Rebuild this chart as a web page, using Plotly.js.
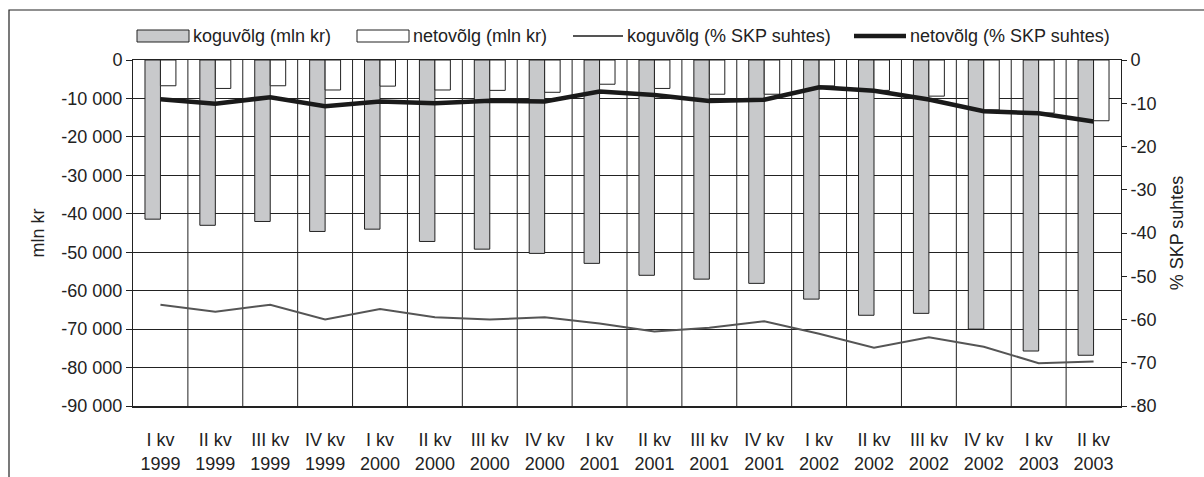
<!DOCTYPE html>
<html><head><meta charset="utf-8">
<script src="https://cdn.plot.ly/plotly-3.0.1.min.js"></script>
<style>html,body{margin:0;padding:0;background:#fff}#chart{width:1204px;height:477px}</style>
</head><body><div id="chart"></div>
<script>
const categories = ["I kv<br>1999","II kv<br>1999","III kv<br>1999","IV kv<br>1999",
  "I kv<br>2000","II kv<br>2000","III kv<br>2000","IV kv<br>2000",
  "I kv<br>2001","II kv<br>2001","III kv<br>2001","IV kv<br>2001",
  "I kv<br>2002","II kv<br>2002","III kv<br>2002","IV kv<br>2002",
  "I kv<br>2003","II kv<br>2003"];
const koguMln = [-41400,-43000,-42000,-44600,-44000,-47200,-49200,-50300,-52900,-56000,-57000,-58100,-62200,-66400,-65900,-70000,-75700,-76800];
const netoMln = [-6700,-7400,-6700,-7800,-6800,-7800,-7900,-8400,-6300,-7400,-8900,-8900,-6750,-7900,-9400,-13000,-13800,-15800];
const koguPct = [-56.6,-58.2,-56.6,-60.0,-57.6,-59.5,-60.0,-59.5,-60.9,-62.8,-61.9,-60.4,-63.3,-66.5,-64.1,-66.3,-70.1,-69.7];
const netoPct = [-9.1,-10.1,-8.6,-10.7,-9.6,-10.0,-9.4,-9.6,-7.3,-8.1,-9.5,-9.2,-6.3,-7.1,-9.15,-11.85,-12.3,-14.2];
const leftTickVals = [0,-10000,-20000,-30000,-40000,-50000,-60000,-70000,-80000,-90000];
const leftTickText = ["0","-10 000","-20 000","-30 000","-40 000","-50 000","-60 000","-70 000","-80 000","-90 000"];
const rightTickVals = [0,-10,-20,-30,-40,-50,-60,-70,-80];
const rightTickText = ["0","-10","-20","-30","-40","-50","-60","-70","-80"];
const seriesNames = ["koguvõlg (mln kr)","netovõlg (mln kr)","koguvõlg (% SKP suhtes)","netovõlg (% SKP suhtes)"];

const xIdx = categories.map((c, i) => i);

const FONT = "Liberation Sans, Arial, sans-serif";
const TXT = "#222";
const W = 1204, H = 477, L = 133, R = 83, T = 60, B = 71;
const pw = W - L - R, ph = H - T - B;
const px = v => (v - L) / pw;
const py = v => (H - B - v) / ph;

const traces = [
  {type:"bar", name:seriesNames[0], x:xIdx, y:koguMln,
   marker:{color:"#c8c9cb", line:{color:"#222", width:1}}},
  {type:"bar", name:seriesNames[1], x:xIdx, y:netoMln,
   marker:{color:"#ffffff", line:{color:"#222", width:1}}},
  {type:"scatter", mode:"lines", name:seriesNames[2], x:xIdx, y:koguPct, yaxis:"y2",
   line:{color:"#555", width:2}},
  {type:"scatter", mode:"lines", name:seriesNames[3], x:xIdx, y:netoPct, yaxis:"y2",
   line:{color:"#1a1a1a", width:4.5}}
];

// category boundary grid lines (Excel style)
const gridShapes = categories.slice(1).map((c, i) => ({
  type:"line", xref:"x", yref:"paper", x0:i + 0.5, x1:i + 0.5, y0:0, y1:1,
  line:{color:"#222", width:1}, layer:"below"
}));

const shapes = gridShapes.concat([
  {type:"rect", xref:"paper", yref:"paper", x0:px(9), x1:px(1230), y0:py(10), y1:py(520),
   line:{color:"#222", width:1.2}, fillcolor:"rgba(0,0,0,0)", layer:"below"},
  {type:"rect", xref:"paper", yref:"paper", x0:px(137), x1:px(189), y0:py(30), y1:py(42),
   line:{color:"#222", width:1}, fillcolor:"#c8c9cb"},
  {type:"rect", xref:"paper", yref:"paper", x0:px(357), x1:px(409), y0:py(30), y1:py(42),
   line:{color:"#222", width:1}, fillcolor:"#ffffff"},
  {type:"line", xref:"paper", yref:"paper", x0:px(573), x1:px(623), y0:py(36), y1:py(36),
   line:{color:"#555", width:2}},
  {type:"line", xref:"paper", yref:"paper", x0:px(854), x1:px(906), y0:py(36), y1:py(36),
   line:{color:"#1a1a1a", width:4.5}}
]);
const legX = [191, 411, 625, 908];
const annotations = seriesNames.map((n,i) => ({
  text:n, xref:"paper", yref:"paper", x:px(legX[i]), y:py(36), xanchor:"left", yanchor:"middle",
  showarrow:false, font:{family:FONT, size:18, color:TXT}
}));

const layout = {
  width:W, height:H, margin:{l:L, r:R, t:T, b:B, pad:0},
  paper_bgcolor:"#fff", plot_bgcolor:"#fff",
  font:{family:FONT, size:18, color:TXT},
  showlegend:false, barmode:"group", bargap:0.436, bargroupgap:0,
  xaxis:{type:"linear", range:[-0.5, categories.length - 0.5], tickmode:"array",
    tickvals:xIdx, ticktext:categories, showgrid:false, zeroline:false,
    ticks:"", ticklabelstandoff:17,
    showline:true, linecolor:"#222", linewidth:1.5, mirror:true,
    tickfont:{family:FONT, size:18, color:TXT}},
  yaxis:{range:[-90000,0], tickvals:leftTickVals, ticktext:leftTickText, showgrid:true,
    gridcolor:"#222", gridwidth:1, zeroline:false, showline:true, linecolor:"#222", linewidth:1,
    ticks:"outside", ticklen:6, tickcolor:"#222",
    title:{text:"mln kr", font:{family:FONT, size:18, color:TXT}, standoff:12},
    tickfont:{family:FONT, size:18, color:TXT}},
  yaxis2:{overlaying:"y", side:"right", range:[-80,0], tickvals:rightTickVals, ticktext:rightTickText,
    showgrid:false, zeroline:false, showline:true, linecolor:"#222", linewidth:1,
    ticks:"outside", ticklen:5, tickcolor:"#222",
    title:{text:"% SKP suhtes", font:{family:FONT, size:18, color:TXT}, standoff:14},
    tickfont:{family:FONT, size:18, color:TXT}},
  shapes:shapes, annotations:annotations
};
Plotly.newPlot("chart", traces, layout, {displayModeBar:false, staticPlot:true});
</script></body></html>
